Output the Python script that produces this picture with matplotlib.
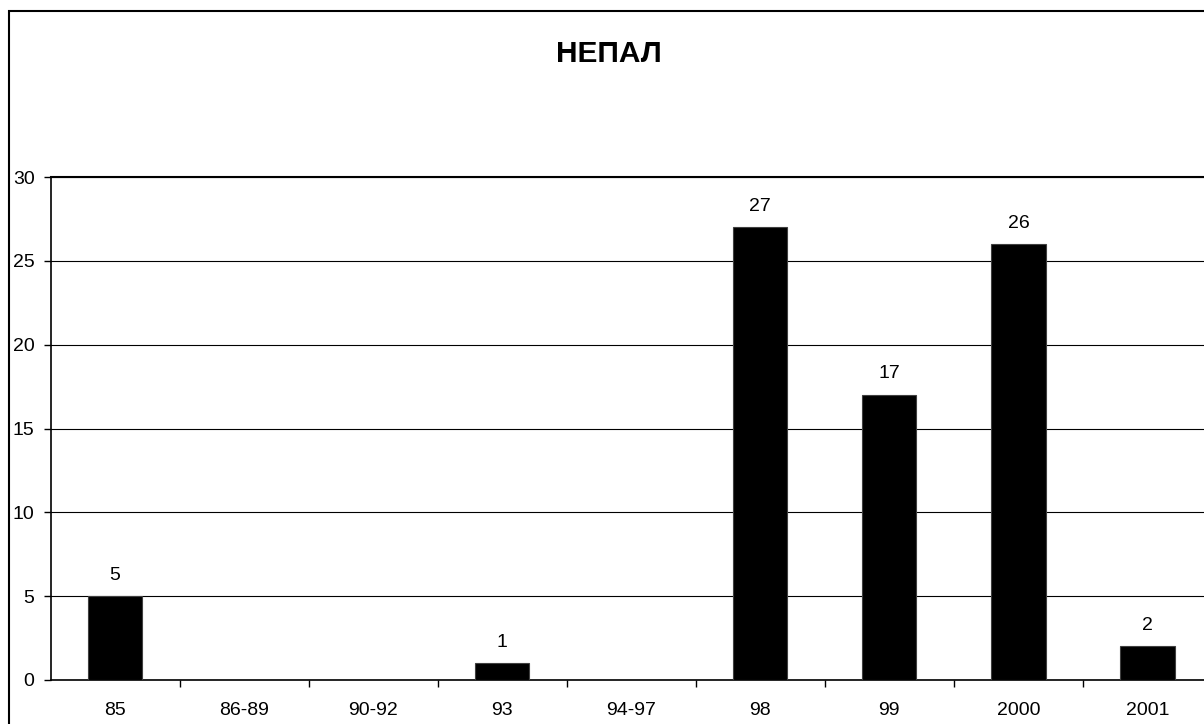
import numpy as np
import matplotlib
matplotlib.use("Agg")
from matplotlib import pyplot as plt
from matplotlib.patches import Rectangle

# chart data
categories = ["85", "86-89", "90-92", "93", "94-97", "98", "99", "2000", "2001"]
values = [5, 0, 0, 1, 0, 27, 17, 26, 2]
title = "НЕПАЛ"

plt.rcParams['font.family'] = ['Liberation Sans', 'DejaVu Sans']

fig = plt.figure(figsize=(12.04, 7.24), dpi=100)

# outer frame (cut at right and bottom like the reference)
fig.patches.append(Rectangle((8.5 / 1204, -0.1), 1.2, (724 - 11) / 724 + 0.1,
                             transform=fig.transFigure, fill=False,
                             edgecolor='black', linewidth=1.5))

fig.text(0.5 + 7 / 1204, 1 - 54 / 724, title, ha='center', va='center',
         fontsize=21.5, fontweight='bold')

ax = fig.add_axes([50.5 / 1204, 1 - 680 / 724, (1212 - 50.5) / 1204, (680 - 177) / 724])

x = np.arange(len(categories))
bars = ax.bar(x, values, width=0.42, color='black', edgecolor='#404040',
              linewidth=0.8, zorder=3)

# value labels above non-zero bars
for xi, v in zip(x, values):
    if v > 0:
        ax.annotate(str(v), xy=(xi, v), xytext=(0, 9), textcoords='offset points',
                    ha='center', va='bottom', fontsize=14)

ax.set_xlim(-0.5, len(categories) - 0.5)
ax.set_ylim(0, 30)
ax.set_yticks(np.arange(0, 31, 5))
ax.yaxis.grid(True, color='black', linewidth=0.8)
ax.set_axisbelow(True)

# category labels in the middle, ticks on boundaries
ax.set_xticks(x)
ax.set_xticklabels(categories)
ax.set_xticks(np.arange(0.5, len(categories) - 0.5, 1), minor=True)
ax.tick_params(axis='x', which='major', length=0, pad=16, labelsize=14)
ax.tick_params(axis='x', which='minor', length=5, width=1, color='black', direction='out')
ax.tick_params(axis='y', length=5, width=1, pad=6.5, labelsize=14)

for side in ['left', 'bottom', 'top']:
    ax.spines[side].set_color('black')
    ax.spines[side].set_linewidth(1.2)
ax.spines['top'].set_linewidth(1.5)

fig.savefig("out.png", dpi=100)
